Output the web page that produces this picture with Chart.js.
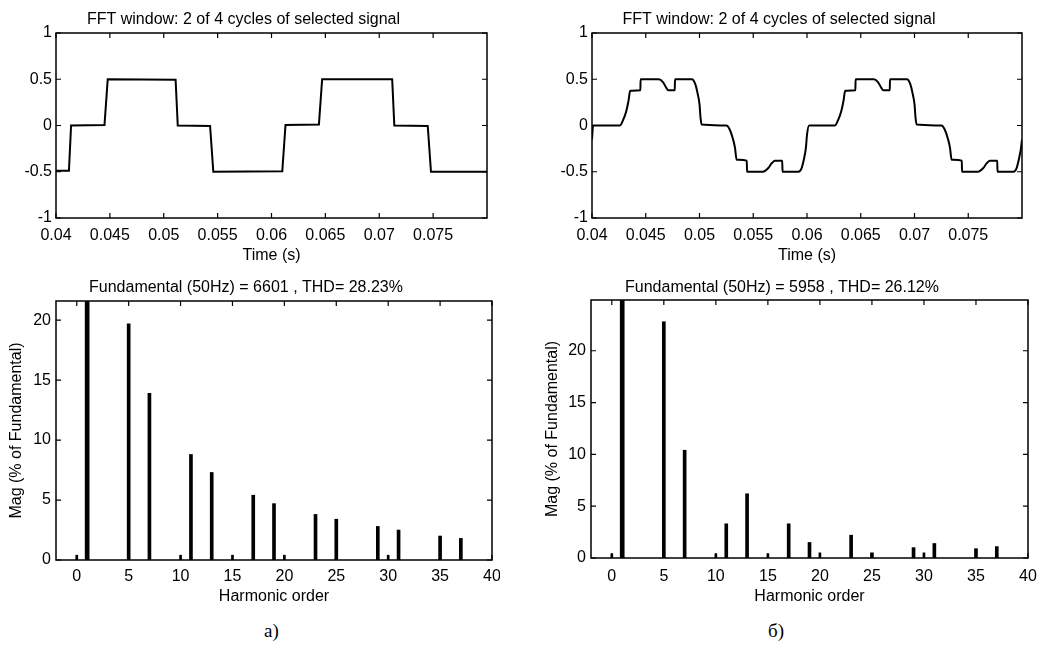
<!DOCTYPE html>
<html><head><meta charset="utf-8">
<script src="https://cdn.jsdelivr.net/npm/chart.js@4.4.1/dist/chart.umd.min.js"></script>
<style>
html,body{margin:0;padding:0;background:#fff;}
#wrap{position:relative;width:1042px;height:653px;overflow:hidden;background:#fff;}
canvas{position:absolute;}
.cap{position:absolute;font-family:"Liberation Serif","Times New Roman",serif;font-size:19px;line-height:22px;color:#000;}
</style></head><body>
<div id="wrap">
<canvas id="c1" width="500" height="268" style="left:0px;top:0px"></canvas>
<canvas id="c2" width="506" height="268" style="left:536px;top:0px"></canvas>
<canvas id="c3" width="500" height="341" style="left:0px;top:268px"></canvas>
<canvas id="c4" width="506" height="341" style="left:536px;top:268px"></canvas>
<div class="cap" style="left:264px;top:620px">а)</div>
<div class="cap" style="left:768px;top:620px">б)</div>
</div>
<script>
// ---------- data ----------
const timeTicks = [0.04,0.045,0.05,0.055,0.06,0.065,0.07,0.075];
const timeTickLabels = ['0.04','0.045','0.05','0.055','0.06','0.065','0.07','0.075'];
const signalTicks = [-1,-0.5,0,0.5,1];
const signalTickLabels = ['-1','-0.5','0','0.5','1'];
const harmTicks = [0,5,10,15,20,25,30,35,40];
const harmTickLabels = ['0','5','10','15','20','25','30','35','40'];
const magTicks = [0,5,10,15,20];
const magTickLabels = ['0','5','10','15','20'];

// signal a)
const timeA = [0.0400,0.0412,0.0414,0.0445,0.0448,0.0511,0.0513,0.0543,0.0546,0.0610,0.0613,0.0644,0.0647,0.0712,0.0714,0.0745,0.0748,0.0800];
const signalA = [-0.49,-0.49,0,0.005,0.5,0.495,0,-0.005,-0.5,-0.495,0.005,0.01,0.5,0.5,0,-0.005,-0.5,-0.5];

// signal б)
const timeB = [0.0400,0.0401,0.0426,0.0429,0.0432,0.0434,0.04355,0.0445,0.04452,0.0462,0.0466,0.0469,0.0471,0.0477,0.04772,0.0493,0.0496,0.0498,0.0500,0.0501,0.0502,
  0.0525,0.0528,0.0531,0.0533,0.05345,0.0544,0.05442,0.0559,0.0564,0.0567,0.0570,0.0577,0.05772,0.0592,0.0595,0.0597,0.0599,0.0600,0.0602,
  0.0626,0.0629,0.0632,0.0634,0.06355,0.0645,0.06452,0.0662,0.0666,0.0669,0.0671,0.0677,0.06772,0.0693,0.0696,0.0698,0.0700,0.0701,0.0702,
  0.0725,0.0728,0.0731,0.0733,0.07345,0.0744,0.07442,0.0759,0.0764,0.0767,0.0770,0.0777,0.07772,0.0792,0.0795,0.0797,0.0799,0.0800];
const signalB = [-0.15,0,0,0.06,0.16,0.27,0.375,0.38,0.5,0.5,0.47,0.41,0.38,0.38,0.5,0.5,0.45,0.36,0.23,0.08,0.01,
  0,-0.04,-0.14,-0.24,-0.37,-0.38,-0.5,-0.5,-0.46,-0.41,-0.38,-0.38,-0.5,-0.5,-0.46,-0.37,-0.24,-0.1,0,
  0,0.06,0.16,0.27,0.375,0.38,0.5,0.5,0.47,0.41,0.38,0.38,0.5,0.5,0.45,0.36,0.23,0.08,0.01,
  0,-0.04,-0.14,-0.24,-0.37,-0.38,-0.5,-0.5,-0.46,-0.41,-0.38,-0.38,-0.5,-0.5,-0.46,-0.37,-0.25,-0.15];

// spectra (% of fundamental)
const harmonicOrders = [1,5,7,11,13,17,19,23,25,29,31,35,37];
const magA = [100,19.7,13.9,8.8,7.3,5.4,4.7,3.8,3.4,2.8,2.5,2.0,1.8];
const magB = [100,22.8,10.4,3.3,6.2,3.3,1.5,2.2,0.5,1.0,1.4,0.9,1.1];
const minorOrders = [0,10,15,20,30];
const minorA = [0.4,0.4,0.4,0.4,0.4];
const minorB = [0.4,0.4,0.4,0.5,0.5];

const titleTime = 'FFT window: 2 of 4 cycles of selected signal';
const titleA = 'Fundamental (50Hz) = 6601 , THD= 28.23%';
const titleB = 'Fundamental (50Hz) = 5958 , THD= 26.12%';

// ---------- styling ----------
const FONT = '"Liberation Sans", Arial, sans-serif';
Chart.defaults.font.family = FONT;
Chart.defaults.font.size = 16;
Chart.defaults.color = '#000';

const framePlugin = {
  id: 'frame',
  afterDatasetsDraw(chart) {
    const {ctx, chartArea: a, scales} = chart;
    ctx.save();
    ctx.strokeStyle = '#000';
    ctx.lineWidth = 1.5;
    ctx.strokeRect(a.left, a.top, a.right - a.left, a.bottom - a.top);
    ctx.lineWidth = 1.2;
    const L = 5;
    ctx.beginPath();
    scales.x.ticks.forEach(t => {
      const p = scales.x.getPixelForValue(t.value);
      ctx.moveTo(p, a.bottom); ctx.lineTo(p, a.bottom - L);
      ctx.moveTo(p, a.top); ctx.lineTo(p, a.top + L);
    });
    scales.y.ticks.forEach(t => {
      const p = scales.y.getPixelForValue(t.value);
      ctx.moveTo(a.left, p); ctx.lineTo(a.left + L, p);
      ctx.moveTo(a.right, p); ctx.lineTo(a.right - L, p);
    });
    ctx.stroke();
    ctx.restore();
  }
};

function axis(o) {
  const isX = o.isX;
  const cfg = {
    type: 'linear',
    min: o.min, max: o.max,
    offset: false,
    grid: {display: false, drawTicks: false},
    border: {display: false},
    afterBuildTicks(s) { s.ticks = o.ticks.map(v => ({value: v})); },
    afterFit(s) {
      if (isX) s.height = o.size; else s.width = o.size;
      s.paddingLeft = 0; s.paddingRight = 0; s.paddingTop = 0; s.paddingBottom = 0;
    },
    ticks: {
      autoSkip: false, maxRotation: 0, minRotation: 0,
      padding: o.tickPad,
      font: {size: 16, lineHeight: 1},
      color: '#000',
      callback: (v, i) => o.labels[i]
    }
  };
  if (o.title) {
    cfg.title = {display: true, text: o.title, color: '#000',
      font: {size: 16, lineHeight: 1},
      padding: o.titlePad};
  }
  return cfg;
}

function baseOptions(o) {
  return {
    responsive: false,
    animation: false,
    devicePixelRatio: 1,
    layout: {padding: {left: 0, right: o.padRight, top: 0, bottom: 0}},
    plugins: {
      legend: {display: false},
      tooltip: {enabled: false},
      title: {display: true, text: o.title, color: '#000',
        font: {size: 16, weight: 'normal', lineHeight: 1},
        padding: {top: o.titleTop, bottom: o.titleBottom}}
    },
    scales: {x: o.x, y: o.y}
  };
}

function timeChart(id, times, values, smooth, padRight) {
  new Chart(document.getElementById(id), {
    type: 'line',
    data: {datasets: [{
      data: times.map((t, i) => ({x: t, y: values[i]})),
      borderColor: '#000', borderWidth: 2, pointRadius: 0, fill: false,
      cubicInterpolationMode: smooth ? 'monotone' : 'default', tension: 0
    }]},
    options: baseOptions({
      title: titleTime, titleTop: 12, titleBottom: 5, padRight: padRight,
      x: axis({isX: true, min: 0.04, max: 0.08, ticks: timeTicks, labels: timeTickLabels,
        size: 50, tickPad: 10, title: 'Time (s)', titlePad: {top: 0, bottom: 4}}),
      y: axis({isX: false, min: -1, max: 1, ticks: signalTicks, labels: signalTickLabels,
        size: 56, tickPad: 4})
    }),
    plugins: [framePlugin]
  });
}

function spectrumChart(id, mags, minors, ymax, g) {
  const pts = (xs, ys) => xs.map((x, i) => ({x: x, y: ys[i]}));
  new Chart(document.getElementById(id), {
    type: 'bar',
    data: {datasets: [
      {data: pts(harmonicOrders.slice(0, 1), mags.slice(0, 1)), backgroundColor: '#000', barThickness: 4, grouped: false},
      {data: pts(harmonicOrders.slice(1), mags.slice(1)), backgroundColor: '#000', barThickness: 3, grouped: false},
      {data: pts(minorOrders, minors), backgroundColor: '#000', barThickness: 2, grouped: false}
    ]},
    options: baseOptions({
      title: g.title, titleTop: 12, titleBottom: g.titleBottom, padRight: g.padRight,
      x: axis({isX: true, min: -2, max: 40, ticks: harmTicks, labels: harmTickLabels,
        size: g.xSize, tickPad: g.xTickPad, title: 'Harmonic order', titlePad: {top: 0, bottom: 4}}),
      y: axis({isX: false, min: 0, max: ymax, ticks: magTicks, labels: magTickLabels,
        size: g.ySize, tickPad: 5, title: 'Mag (% of Fundamental)', titlePad: {top: 9, bottom: 0}})
    }),
    plugins: [framePlugin]
  });
}

timeChart('c1', timeA, signalA, false, 13);
timeChart('c2', timeB, signalB, true, 20);
spectrumChart('c3', magA, minorA, 21.6, {title: titleA, titleBottom: 5, padRight: 8, xSize: 49, xTickPad: 9, ySize: 56});
spectrumChart('c4', magB, minorB, 24.9, {title: titleB, titleBottom: 4, padRight: 14, xSize: 51, xTickPad: 11, ySize: 55});
</script>
</body></html>
